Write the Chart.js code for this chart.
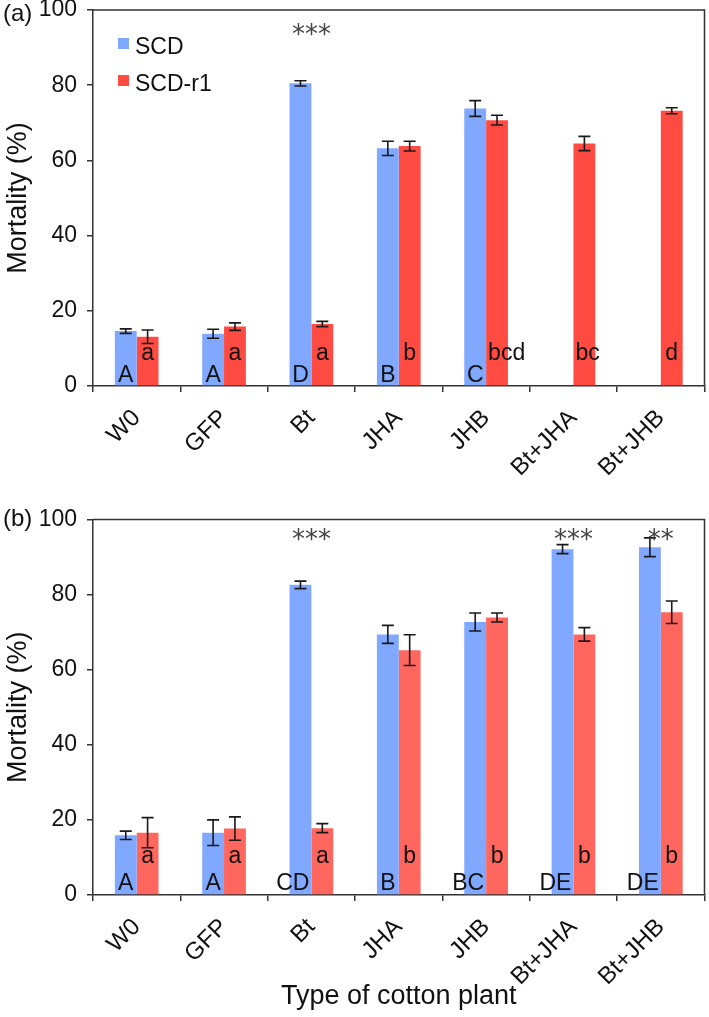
<!DOCTYPE html>
<html>
<head>
<meta charset="utf-8">
<title>Mortality by cotton plant type</title>
<script src="https://cdn.jsdelivr.net/npm/chart.js@4.4.1/dist/chart.umd.min.js"></script>
<style>
  html, body { margin: 0; padding: 0; background: #fff; }
  canvas { position: absolute; left: 0; }
  #chartA { top: 0; }
  #chartB { top: 500px; }
</style>
</head>
<body>
<canvas id="chartA" width="709" height="500"></canvas>
<canvas id="chartB" width="709" height="517"></canvas>
<script>
// ---- data ----
const categories = ['W0', 'GFP', 'Bt', 'JHA', 'JHB', 'Bt+JHA', 'Bt+JHB'];
const seriesNames = ['SCD', 'SCD-r1'];

// panel (a)
const scdA      = [14.6, 13.9, 80.5, 63.2, 73.8, null, null];
const scdErrA   = [0.6, 1.2, 0.7, 1.9, 2.1, null, null];
const r1A       = [13.1, 15.8, 16.5, 63.8, 70.7, 64.5, 73.2];
const r1ErrA    = [1.8, 1.0, 0.7, 1.3, 1.3, 1.9, 0.8];
const scdLettersA = ['A', 'A', 'D', 'B', 'C', '', ''];
const r1LettersA  = ['a', 'a', 'a', 'b', 'bcd', 'bc', 'd'];
const starsA      = ['', '', '***', '', '', '', ''];

// panel (b)
const scdB      = [15.9, 16.6, 82.6, 69.4, 72.7, 92.1, 92.6];
const scdErrB   = [1.1, 3.4, 1.0, 2.4, 2.4, 1.2, 2.5];
const r1B       = [16.6, 17.7, 17.8, 65.2, 73.9, 69.4, 75.3];
const r1ErrB    = [4.0, 3.1, 1.2, 4.1, 1.2, 1.8, 3.0];
const scdLettersB = ['A', 'A', 'CD', 'B', 'BC', 'DE', 'DE'];
const r1LettersB  = ['a', 'a', 'a', 'b', 'b', 'b', 'b'];
const starsB      = ['', '', '***', '', '', '***', '**'];

const FONT = "'Liberation Sans', Arial, sans-serif";
const BLUE = '#80a8ff';
Chart.defaults.font.family = FONT;
Chart.defaults.color = '#111';

// error bars, significance letters, stars, frame, legend, panel tag
const annotPlugin = {
  id: 'annot',
  afterDatasetsDraw(chart, args, opts) {
    const ctx = chart.ctx, area = chart.chartArea;
    const xs = chart.scales.x, ys = chart.scales.y;
    const zero = ys.getPixelForValue(0);
    ctx.save();

    // top + right of the frame
    ctx.strokeStyle = '#333';
    ctx.lineWidth = 1.5;
    ctx.beginPath();
    ctx.moveTo(area.left, area.top);
    ctx.lineTo(area.right, area.top);
    ctx.lineTo(area.right, area.bottom);
    ctx.stroke();

    chart.data.datasets.forEach((ds, di) => {
      const meta = chart.getDatasetMeta(di);
      meta.data.forEach((bar, i) => {
        const v = ds.data[i];
        if (v == null) return;
        // letters
        const t = ds.letters[i];
        if (t) {
          ctx.fillStyle = '#111';
          ctx.font = '23px ' + FONT;
          ctx.textBaseline = 'alphabetic';
          let tx = bar.x;
          if (t.length === 1) ctx.textAlign = 'center';
          else if (di === 0) { ctx.textAlign = 'right'; tx = bar.x + bar.width / 2 - 2; }
          else { ctx.textAlign = 'left'; tx = bar.x - bar.width / 2 + 2; }
          ctx.fillText(t, tx, zero + (di === 0 ? opts.upperDy : opts.lowerDy));
        }
        // error bar
        const e = ds.errors[i];
        if (e) {
          const yt = ys.getPixelForValue(v + e), yb = ys.getPixelForValue(v - e);
          ctx.strokeStyle = '#1a1a1a';
          ctx.lineWidth = 1.6;
          ctx.beginPath();
          ctx.moveTo(bar.x, yt); ctx.lineTo(bar.x, yb);
          ctx.moveTo(bar.x - 6, yt); ctx.lineTo(bar.x + 6, yt);
          ctx.moveTo(bar.x - 6, yb); ctx.lineTo(bar.x + 6, yb);
          ctx.stroke();
        }
      });
    });

    // stars
    ctx.fillStyle = '#444';
    ctx.font = "26px 'DejaVu Sans', sans-serif";
    ctx.textAlign = 'center';
    ctx.textBaseline = 'alphabetic';
    opts.stars.forEach((s, i) => {
      if (s) ctx.fillText(s, xs.getPixelForValue(i), area.top + opts.starDy);
    });

    // legend
    if (opts.legend) {
      ctx.font = '23px ' + FONT;
      ctx.textAlign = 'left';
      chart.data.datasets.forEach((ds, di) => {
        const top = 38 + di * 37;
        ctx.fillStyle = ds.backgroundColor;
        ctx.fillRect(118, top, 11, 11);
        ctx.fillStyle = '#111';
        ctx.fillText(ds.label, 135, top + 16);
      });
    }

    // panel tag
    ctx.fillStyle = '#111';
    ctx.font = '24px ' + FONT;
    ctx.textAlign = 'left';
    ctx.textBaseline = 'middle';
    ctx.fillText(opts.tag, 3, area.top + opts.tagDy);
    ctx.restore();
  }
};

function makeChart(id, cfg) {
  return new Chart(document.getElementById(id), {
    type: 'bar',
    data: {
      labels: categories,
      datasets: [
        { label: seriesNames[0], data: cfg.scd, errors: cfg.scdErr, letters: cfg.scdLetters, backgroundColor: BLUE },
        { label: seriesNames[1], data: cfg.r1, errors: cfg.r1Err, letters: cfg.r1Letters, backgroundColor: cfg.red }
      ]
    },
    options: {
      responsive: false,
      animation: false,
      layout: { padding: { top: cfg.padTop, right: 4.5, left: 0, bottom: 0 } },
      datasets: { bar: { categoryPercentage: 0.5, barPercentage: 1 } },
      plugins: {
        legend: { display: false },
        tooltip: { enabled: false },
        annot: cfg.annot
      },
      scales: {
        x: {
          grid: { offset: true, drawOnChartArea: false, drawTicks: true, tickLength: 6, color: '#333', lineWidth: 1.5 },
          border: { color: '#333', width: 1.5 },
          ticks: { autoSkip: false, minRotation: 45, maxRotation: 45, padding: 12, font: { size: 24 }, color: '#111' },
          title: { display: !!cfg.xTitle, text: cfg.xTitle || '', font: { size: 27 }, color: '#111', padding: { top: 4, bottom: 4 } },
          afterFit(s) { s.height = cfg.xHeight; s.paddingLeft = 0; s.paddingRight = 0; }
        },
        y: {
          min: 0, max: 100,
          grid: { drawOnChartArea: false, drawTicks: true, tickLength: 6, color: '#333', lineWidth: 1.5 },
          border: { color: '#333', width: 1.5 },
          ticks: { stepSize: 20, padding: 10, font: { size: 23 }, color: '#111' },
          title: { display: true, text: 'Mortality (%)', font: { size: 27 }, color: '#111', padding: { top: 2, bottom: 0 } },
          afterFit(s) { s.width = 93; s.paddingTop = 0; s.paddingBottom = 0; }
        }
      }
    },
    plugins: [annotPlugin]
  });
}

makeChart('chartA', {
  scd: scdA, scdErr: scdErrA, scdLetters: scdLettersA,
  r1: r1A, r1Err: r1ErrA, r1Letters: r1LettersA,
  red: '#ff4b42', padTop: 10, xHeight: 114,
  annot: { tag: '(a)', tagDy: 4, legend: true, stars: starsA, starDy: 33, upperDy: -4, lowerDy: -26 }
});

makeChart('chartB', {
  scd: scdB, scdErr: scdErrB, scdLetters: scdLettersB,
  r1: r1B, r1Err: r1ErrB, r1Letters: r1LettersB,
  red: '#ff665e', padTop: 19.5, xHeight: 122, xTitle: 'Type of cotton plant',
  annot: { tag: '(b)', tagDy: 0, legend: false, stars: starsB, starDy: 28, upperDy: -5, lowerDy: -32 }
});
</script>
</body>
</html>
